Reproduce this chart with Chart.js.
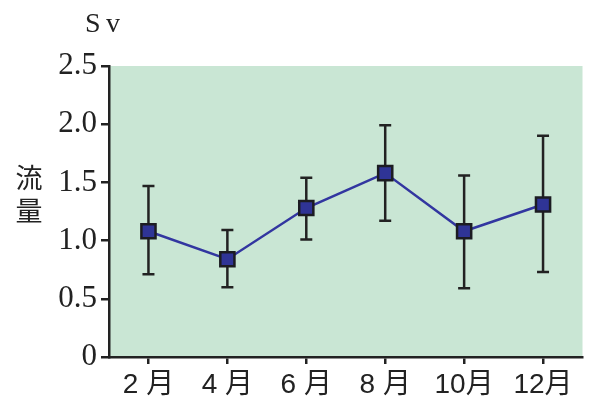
<!DOCTYPE html>
<html>
<head>
<meta charset="utf-8">
<script src="https://cdn.jsdelivr.net/npm/chart.js@4/dist/chart.umd.min.js"></script>
<style>
  html, body { margin: 0; padding: 0; background: #fff; }
  #wrap { width: 595px; height: 408px; }
</style>
</head>
<body>
<div id="wrap"><canvas id="flowChart"></canvas></div>
<script>
const months = ['2 月', '4 月', '6 月', '8 月', '10月', '12月'];
const flow = [1.08, 0.84, 1.28, 1.58, 1.08, 1.31];
const errHigh = [1.47, 1.09, 1.54, 1.99, 1.56, 1.90];
const errLow = [0.71, 0.60, 1.01, 1.17, 0.59, 0.73];
const yTicks = [0, 0.5, 1.0, 1.5, 2.0, 2.5];

const ink = '#222222';

// green plot background
const plotBg = {
    id: 'plotBg',
    beforeDraw(chart) {
        const a = chart.chartArea;
        const c = chart.ctx;
        c.save();
        c.fillStyle = '#c9e6d4';
        c.fillRect(a.left, a.top, a.right - a.left, a.bottom - a.top);
        c.restore();
    }
};

// error bars from errLow/errHigh
const errorBars = {
    id: 'errorBars',
    beforeDatasetsDraw(chart) {
        const x = chart.scales.x, y = chart.scales.y;
        const c = chart.ctx;
        c.save();
        c.strokeStyle = ink;
        c.lineWidth = 2.5;
        months.forEach((m, i) => {
            const px = x.getPixelForValue(i);
            const top = y.getPixelForValue(errHigh[i]);
            const bot = y.getPixelForValue(errLow[i]);
            c.beginPath();
            c.moveTo(px, top); c.lineTo(px, bot);
            c.moveTo(px - 6, top); c.lineTo(px + 6, top);
            c.moveTo(px - 6, bot); c.lineTo(px + 6, bot);
            c.stroke();
        });
        c.restore();
    }
};

// unit label and vertical axis title
const labels = {
    id: 'labels',
    afterDraw(chart) {
        const c = chart.ctx;
        c.save();
        c.fillStyle = ink;
        c.font = '28px "Liberation Serif", serif';
        c.textBaseline = 'alphabetic';
        c.textAlign = 'left';
        c.fillText('S', 85, 32);
        c.fillText('v', 106, 32);
        c.font = '27px "Noto Sans CJK JP", sans-serif';
        c.textAlign = 'center';
        c.textBaseline = 'middle';
        c.fillText('流', 29, 178);
        c.fillText('量', 29, 211);
        c.restore();
    }
};

new Chart(document.getElementById('flowChart'), {
    type: 'line',
    data: {
        labels: months,
        datasets: [{
            data: flow,
            borderColor: '#3236a0',
            borderWidth: 2.5,
            pointStyle: 'rect',
            pointRadius: 10,
            pointBackgroundColor: '#2f3496',
            pointBorderColor: '#1c1c22',
            pointBorderWidth: 2.5,
            tension: 0
        }]
    },
    options: {
        responsive: true,
        maintainAspectRatio: false,
        animation: false,
        layout: { padding: { left: 0, top: 66, right: 10, bottom: 0 } },
        plugins: {
            legend: { display: false },
            tooltip: { enabled: false }
        },
        scales: {
            x: {
                offset: true,
                grid: {
                    offset: false,
                    drawOnChartArea: false,
                    drawTicks: true,
                    tickLength: 7,
                    color: ink,
                    lineWidth: 2.5
                },
                border: { color: ink, width: 2.5 },
                ticks: {
                    color: ink,
                    padding: 4,
                    font: { family: '"Liberation Sans", "Noto Sans CJK JP", sans-serif', size: 28 }
                },
                afterFit(scale) {
                    scale.height = 51;
                    scale.paddingLeft = 0;
                    scale.paddingRight = 0;
                }
            },
            y: {
                min: 0,
                max: 2.5,
                afterBuildTicks(scale) {
                    scale.ticks = yTicks.map(v => ({ value: v }));
                },
                grid: {
                    drawOnChartArea: false,
                    drawTicks: true,
                    tickLength: 8,
                    color: ink,
                    lineWidth: 2.5
                },
                border: { color: ink, width: 2.5 },
                ticks: {
                    color: ink,
                    padding: 4,
                    font: { family: '"Liberation Serif", serif', size: 31 },
                    callback: v => v === 0 ? '0' : v.toFixed(1)
                },
                afterFit(scale) { scale.width = 109; }
            }
        }
    },
    plugins: [plotBg, errorBars, labels]
});
</script>
</body>
</html>
